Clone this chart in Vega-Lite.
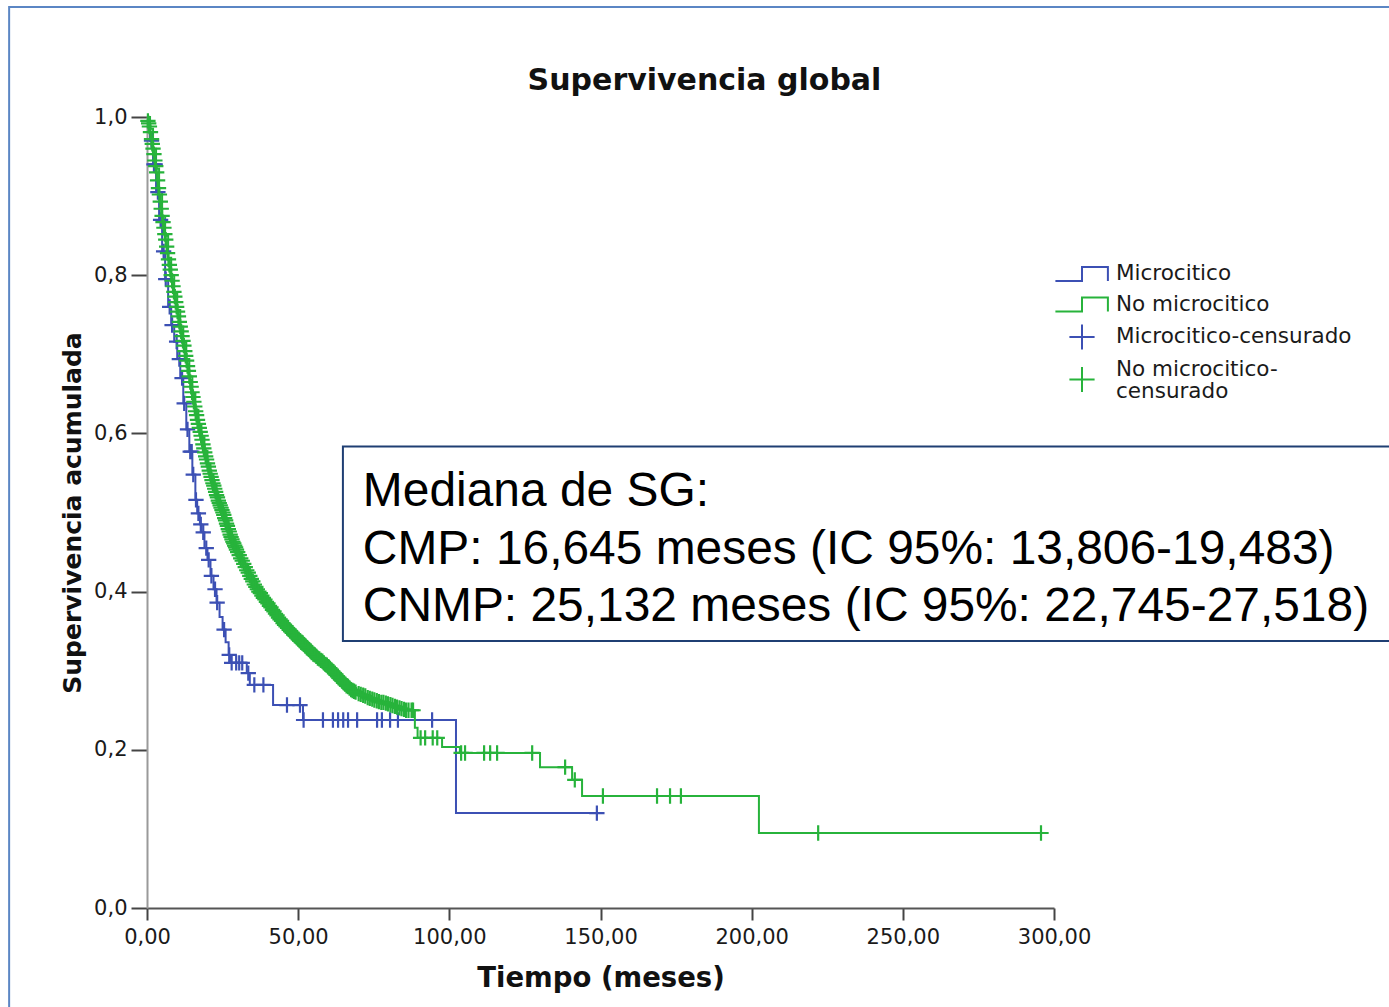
{
  "$schema": "https://vega.github.io/schema/vega-lite/v6.json",
  "width": 907,
  "height": 791,
  "autosize": {"type": "none"},
  "padding": {"left": 147, "top": 117, "right": 335, "bottom": 99},
  "background": "white",
  "title": {
    "text": "Supervivencia global",
    "font": "DejaVu Sans",
    "fontSize": 30,
    "fontWeight": "bold",
    "color": "#111111",
    "anchor": "middle",
    "frame": "group",
    "dx": 104,
    "offset": -90
  },
  "config": {
    "view": {"stroke": null},
    "axis": {
      "labelFont": "DejaVu Sans",
      "labelFontSize": 21,
      "labelColor": "#1a1a1a",
      "labelFlush": false,
      "titleFont": "DejaVu Sans",
      "titleFontWeight": "bold",
      "titleColor": "#111111",
      "grid": false,
      "tickColor": "#444444",
      "tickWidth": 2,
      "domainWidth": 2
    }
  },
  "datasets": {
    "curves": [
      {"series": "Microcitico", "t": 0, "s": 1.0},
      {"series": "Microcitico", "t": 1, "s": 0.97},
      {"series": "Microcitico", "t": 2, "s": 0.94},
      {"series": "Microcitico", "t": 3, "s": 0.905},
      {"series": "Microcitico", "t": 4, "s": 0.87},
      {"series": "Microcitico", "t": 5, "s": 0.83},
      {"series": "Microcitico", "t": 6, "s": 0.795},
      {"series": "Microcitico", "t": 7, "s": 0.76},
      {"series": "Microcitico", "t": 8, "s": 0.737},
      {"series": "Microcitico", "t": 9, "s": 0.716},
      {"series": "Microcitico", "t": 10, "s": 0.694},
      {"series": "Microcitico", "t": 11, "s": 0.67},
      {"series": "Microcitico", "t": 12, "s": 0.638},
      {"series": "Microcitico", "t": 13, "s": 0.605},
      {"series": "Microcitico", "t": 14, "s": 0.577},
      {"series": "Microcitico", "t": 15, "s": 0.548},
      {"series": "Microcitico", "t": 16, "s": 0.516},
      {"series": "Microcitico", "t": 16.6, "s": 0.499},
      {"series": "Microcitico", "t": 17.5, "s": 0.485},
      {"series": "Microcitico", "t": 18, "s": 0.475},
      {"series": "Microcitico", "t": 19, "s": 0.455},
      {"series": "Microcitico", "t": 20, "s": 0.44},
      {"series": "Microcitico", "t": 21, "s": 0.42},
      {"series": "Microcitico", "t": 22, "s": 0.403},
      {"series": "Microcitico", "t": 23, "s": 0.386},
      {"series": "Microcitico", "t": 24, "s": 0.368},
      {"series": "Microcitico", "t": 25, "s": 0.352},
      {"series": "Microcitico", "t": 26, "s": 0.336},
      {"series": "Microcitico", "t": 27, "s": 0.32},
      {"series": "Microcitico", "t": 27.5, "s": 0.31},
      {"series": "Microcitico", "t": 33, "s": 0.297},
      {"series": "Microcitico", "t": 34, "s": 0.282},
      {"series": "Microcitico", "t": 41.7, "s": 0.2566},
      {"series": "Microcitico", "t": 51.6, "s": 0.2377},
      {"series": "Microcitico", "t": 102.2, "s": 0.12},
      {"series": "Microcitico", "t": 148.8, "s": 0.12},
      {"series": "No microcitico", "t": 0, "s": 1.0},
      {"series": "No microcitico", "t": 1, "s": 0.985},
      {"series": "No microcitico", "t": 2, "s": 0.96},
      {"series": "No microcitico", "t": 3, "s": 0.935},
      {"series": "No microcitico", "t": 4, "s": 0.905},
      {"series": "No microcitico", "t": 5, "s": 0.875},
      {"series": "No microcitico", "t": 6, "s": 0.85},
      {"series": "No microcitico", "t": 7, "s": 0.822},
      {"series": "No microcitico", "t": 8, "s": 0.8},
      {"series": "No microcitico", "t": 9, "s": 0.777},
      {"series": "No microcitico", "t": 10, "s": 0.756},
      {"series": "No microcitico", "t": 11, "s": 0.735},
      {"series": "No microcitico", "t": 12, "s": 0.715},
      {"series": "No microcitico", "t": 13, "s": 0.694},
      {"series": "No microcitico", "t": 14, "s": 0.672},
      {"series": "No microcitico", "t": 15, "s": 0.65},
      {"series": "No microcitico", "t": 16, "s": 0.63},
      {"series": "No microcitico", "t": 17, "s": 0.612},
      {"series": "No microcitico", "t": 18, "s": 0.595},
      {"series": "No microcitico", "t": 19, "s": 0.578},
      {"series": "No microcitico", "t": 20, "s": 0.562},
      {"series": "No microcitico", "t": 21, "s": 0.548},
      {"series": "No microcitico", "t": 22, "s": 0.535},
      {"series": "No microcitico", "t": 23, "s": 0.522},
      {"series": "No microcitico", "t": 24, "s": 0.511},
      {"series": "No microcitico", "t": 25, "s": 0.501},
      {"series": "No microcitico", "t": 26, "s": 0.49},
      {"series": "No microcitico", "t": 27, "s": 0.478},
      {"series": "No microcitico", "t": 28, "s": 0.467},
      {"series": "No microcitico", "t": 29, "s": 0.458},
      {"series": "No microcitico", "t": 30, "s": 0.45},
      {"series": "No microcitico", "t": 31, "s": 0.442},
      {"series": "No microcitico", "t": 32, "s": 0.435},
      {"series": "No microcitico", "t": 33, "s": 0.427},
      {"series": "No microcitico", "t": 34, "s": 0.42},
      {"series": "No microcitico", "t": 35, "s": 0.413},
      {"series": "No microcitico", "t": 36, "s": 0.406},
      {"series": "No microcitico", "t": 37, "s": 0.4},
      {"series": "No microcitico", "t": 38, "s": 0.395},
      {"series": "No microcitico", "t": 39, "s": 0.39},
      {"series": "No microcitico", "t": 40, "s": 0.385},
      {"series": "No microcitico", "t": 41, "s": 0.38},
      {"series": "No microcitico", "t": 42, "s": 0.375},
      {"series": "No microcitico", "t": 43, "s": 0.37},
      {"series": "No microcitico", "t": 44, "s": 0.365},
      {"series": "No microcitico", "t": 45, "s": 0.36},
      {"series": "No microcitico", "t": 46, "s": 0.356},
      {"series": "No microcitico", "t": 47, "s": 0.352},
      {"series": "No microcitico", "t": 48, "s": 0.348},
      {"series": "No microcitico", "t": 49, "s": 0.344},
      {"series": "No microcitico", "t": 50, "s": 0.34},
      {"series": "No microcitico", "t": 51, "s": 0.336},
      {"series": "No microcitico", "t": 52, "s": 0.333},
      {"series": "No microcitico", "t": 53, "s": 0.329},
      {"series": "No microcitico", "t": 54, "s": 0.325},
      {"series": "No microcitico", "t": 55, "s": 0.321},
      {"series": "No microcitico", "t": 56, "s": 0.318},
      {"series": "No microcitico", "t": 57, "s": 0.315},
      {"series": "No microcitico", "t": 58, "s": 0.312},
      {"series": "No microcitico", "t": 59, "s": 0.308},
      {"series": "No microcitico", "t": 60, "s": 0.305},
      {"series": "No microcitico", "t": 61, "s": 0.301},
      {"series": "No microcitico", "t": 62, "s": 0.297},
      {"series": "No microcitico", "t": 63, "s": 0.293},
      {"series": "No microcitico", "t": 64, "s": 0.289},
      {"series": "No microcitico", "t": 65, "s": 0.285},
      {"series": "No microcitico", "t": 66, "s": 0.281},
      {"series": "No microcitico", "t": 67, "s": 0.278},
      {"series": "No microcitico", "t": 68, "s": 0.275},
      {"series": "No microcitico", "t": 69, "s": 0.273},
      {"series": "No microcitico", "t": 70, "s": 0.271},
      {"series": "No microcitico", "t": 72, "s": 0.268},
      {"series": "No microcitico", "t": 74, "s": 0.265},
      {"series": "No microcitico", "t": 76, "s": 0.262},
      {"series": "No microcitico", "t": 78, "s": 0.26},
      {"series": "No microcitico", "t": 80, "s": 0.258},
      {"series": "No microcitico", "t": 82, "s": 0.255},
      {"series": "No microcitico", "t": 84, "s": 0.252},
      {"series": "No microcitico", "t": 86, "s": 0.25},
      {"series": "No microcitico", "t": 88.6, "s": 0.228},
      {"series": "No microcitico", "t": 89.5, "s": 0.215},
      {"series": "No microcitico", "t": 97.6, "s": 0.2035},
      {"series": "No microcitico", "t": 103.5, "s": 0.196},
      {"series": "No microcitico", "t": 130, "s": 0.178},
      {"series": "No microcitico", "t": 140.6, "s": 0.162},
      {"series": "No microcitico", "t": 143.9, "s": 0.1416},
      {"series": "No microcitico", "t": 202.4, "s": 0.0948},
      {"series": "No microcitico", "t": 295.7, "s": 0.0948}
    ],
    "censored": [
      {"series": "Microcitico-censurado", "t": 1.5, "s": 0.97},
      {"series": "Microcitico-censurado", "t": 2.3, "s": 0.94},
      {"series": "Microcitico-censurado", "t": 2.7, "s": 0.94},
      {"series": "Microcitico-censurado", "t": 3.6, "s": 0.905},
      {"series": "Microcitico-censurado", "t": 4.5, "s": 0.87},
      {"series": "Microcitico-censurado", "t": 5.5, "s": 0.83},
      {"series": "Microcitico-censurado", "t": 6.2, "s": 0.795},
      {"series": "Microcitico-censurado", "t": 7.5, "s": 0.76},
      {"series": "Microcitico-censurado", "t": 8.3, "s": 0.737},
      {"series": "Microcitico-censurado", "t": 9.8, "s": 0.716},
      {"series": "Microcitico-censurado", "t": 10.7, "s": 0.694},
      {"series": "Microcitico-censurado", "t": 11.6, "s": 0.67},
      {"series": "Microcitico-censurado", "t": 12.3, "s": 0.638},
      {"series": "Microcitico-censurado", "t": 13.4, "s": 0.605},
      {"series": "Microcitico-censurado", "t": 14.3, "s": 0.577},
      {"series": "Microcitico-censurado", "t": 14.8, "s": 0.577},
      {"series": "Microcitico-censurado", "t": 15.3, "s": 0.548},
      {"series": "Microcitico-censurado", "t": 16.2, "s": 0.516},
      {"series": "Microcitico-censurado", "t": 17, "s": 0.499},
      {"series": "Microcitico-censurado", "t": 17.8, "s": 0.485},
      {"series": "Microcitico-censurado", "t": 18.6, "s": 0.475},
      {"series": "Microcitico-censurado", "t": 19.6, "s": 0.455},
      {"series": "Microcitico-censurado", "t": 20.4, "s": 0.44},
      {"series": "Microcitico-censurado", "t": 21.3, "s": 0.42},
      {"series": "Microcitico-censurado", "t": 22.5, "s": 0.403},
      {"series": "Microcitico-censurado", "t": 23.2, "s": 0.386},
      {"series": "Microcitico-censurado", "t": 25.5, "s": 0.352},
      {"series": "Microcitico-censurado", "t": 27.2, "s": 0.32},
      {"series": "Microcitico-censurado", "t": 28, "s": 0.31},
      {"series": "Microcitico-censurado", "t": 29.5, "s": 0.31},
      {"series": "Microcitico-censurado", "t": 30.5, "s": 0.31},
      {"series": "Microcitico-censurado", "t": 31.5, "s": 0.31},
      {"series": "Microcitico-censurado", "t": 33.5, "s": 0.297},
      {"series": "Microcitico-censurado", "t": 35.5, "s": 0.282},
      {"series": "Microcitico-censurado", "t": 38.5, "s": 0.282},
      {"series": "Microcitico-censurado", "t": 46.3, "s": 0.2566},
      {"series": "Microcitico-censurado", "t": 50.6, "s": 0.2566},
      {"series": "Microcitico-censurado", "t": 51.8, "s": 0.2377},
      {"series": "Microcitico-censurado", "t": 58.2, "s": 0.2377},
      {"series": "Microcitico-censurado", "t": 61.5, "s": 0.2377},
      {"series": "Microcitico-censurado", "t": 63.2, "s": 0.2377},
      {"series": "Microcitico-censurado", "t": 64.9, "s": 0.2377},
      {"series": "Microcitico-censurado", "t": 66.5, "s": 0.2377},
      {"series": "Microcitico-censurado", "t": 69.5, "s": 0.2377},
      {"series": "Microcitico-censurado", "t": 76.1, "s": 0.2377},
      {"series": "Microcitico-censurado", "t": 77.7, "s": 0.2377},
      {"series": "Microcitico-censurado", "t": 80.4, "s": 0.2377},
      {"series": "Microcitico-censurado", "t": 83, "s": 0.2377},
      {"series": "Microcitico-censurado", "t": 94.3, "s": 0.2377},
      {"series": "Microcitico-censurado", "t": 148.8, "s": 0.12},
      {"series": "No microcitico-censurado", "t": 0.3, "s": 0.995},
      {"series": "No microcitico-censurado", "t": 0.55, "s": 0.992},
      {"series": "No microcitico-censurado", "t": 0.8, "s": 0.988},
      {"series": "No microcitico-censurado", "t": 1.15, "s": 0.981},
      {"series": "No microcitico-censurado", "t": 1.5, "s": 0.972},
      {"series": "No microcitico-censurado", "t": 1.75, "s": 0.966},
      {"series": "No microcitico-censurado", "t": 2, "s": 0.96},
      {"series": "No microcitico-censurado", "t": 2.3, "s": 0.953},
      {"series": "No microcitico-censurado", "t": 2.6, "s": 0.945},
      {"series": "No microcitico-censurado", "t": 2.9, "s": 0.938},
      {"series": "No microcitico-censurado", "t": 3.2, "s": 0.93},
      {"series": "No microcitico-censurado", "t": 3.5, "s": 0.92},
      {"series": "No microcitico-censurado", "t": 3.8, "s": 0.91},
      {"series": "No microcitico-censurado", "t": 4.1, "s": 0.902},
      {"series": "No microcitico-censurado", "t": 4.4, "s": 0.893},
      {"series": "No microcitico-censurado", "t": 4.7, "s": 0.884},
      {"series": "No microcitico-censurado", "t": 5, "s": 0.875},
      {"series": "No microcitico-censurado", "t": 5.3, "s": 0.867},
      {"series": "No microcitico-censurado", "t": 5.6, "s": 0.86},
      {"series": "No microcitico-censurado", "t": 5.9, "s": 0.852},
      {"series": "No microcitico-censurado", "t": 6.2, "s": 0.845},
      {"series": "No microcitico-censurado", "t": 6.5, "s": 0.836},
      {"series": "No microcitico-censurado", "t": 6.8, "s": 0.828},
      {"series": "No microcitico-censurado", "t": 7.1, "s": 0.82},
      {"series": "No microcitico-censurado", "t": 7.4, "s": 0.813},
      {"series": "No microcitico-censurado", "t": 7.7, "s": 0.807},
      {"series": "No microcitico-censurado", "t": 8, "s": 0.8},
      {"series": "No microcitico-censurado", "t": 8.3, "s": 0.793},
      {"series": "No microcitico-censurado", "t": 8.6, "s": 0.786},
      {"series": "No microcitico-censurado", "t": 8.9, "s": 0.779},
      {"series": "No microcitico-censurado", "t": 9.2, "s": 0.773},
      {"series": "No microcitico-censurado", "t": 9.5, "s": 0.766},
      {"series": "No microcitico-censurado", "t": 9.8, "s": 0.76},
      {"series": "No microcitico-censurado", "t": 10.1, "s": 0.754},
      {"series": "No microcitico-censurado", "t": 10.4, "s": 0.748},
      {"series": "No microcitico-censurado", "t": 10.7, "s": 0.741},
      {"series": "No microcitico-censurado", "t": 11, "s": 0.735},
      {"series": "No microcitico-censurado", "t": 11.3, "s": 0.729},
      {"series": "No microcitico-censurado", "t": 11.6, "s": 0.723},
      {"series": "No microcitico-censurado", "t": 11.9, "s": 0.717},
      {"series": "No microcitico-censurado", "t": 12.2, "s": 0.711},
      {"series": "No microcitico-censurado", "t": 12.5, "s": 0.704},
      {"series": "No microcitico-censurado", "t": 12.8, "s": 0.698},
      {"series": "No microcitico-censurado", "t": 13.1, "s": 0.692},
      {"series": "No microcitico-censurado", "t": 13.4, "s": 0.685},
      {"series": "No microcitico-censurado", "t": 13.7, "s": 0.679},
      {"series": "No microcitico-censurado", "t": 14, "s": 0.672},
      {"series": "No microcitico-censurado", "t": 14.3, "s": 0.665},
      {"series": "No microcitico-censurado", "t": 14.6, "s": 0.659},
      {"series": "No microcitico-censurado", "t": 14.9, "s": 0.652},
      {"series": "No microcitico-censurado", "t": 15.2, "s": 0.646},
      {"series": "No microcitico-censurado", "t": 15.5, "s": 0.64},
      {"series": "No microcitico-censurado", "t": 15.8, "s": 0.634},
      {"series": "No microcitico-censurado", "t": 16.1, "s": 0.628},
      {"series": "No microcitico-censurado", "t": 16.4, "s": 0.623},
      {"series": "No microcitico-censurado", "t": 16.7, "s": 0.617},
      {"series": "No microcitico-censurado", "t": 17, "s": 0.612},
      {"series": "No microcitico-censurado", "t": 17.3, "s": 0.607},
      {"series": "No microcitico-censurado", "t": 17.6, "s": 0.602},
      {"series": "No microcitico-censurado", "t": 17.9, "s": 0.597},
      {"series": "No microcitico-censurado", "t": 18.2, "s": 0.592},
      {"series": "No microcitico-censurado", "t": 18.5, "s": 0.586},
      {"series": "No microcitico-censurado", "t": 18.8, "s": 0.581},
      {"series": "No microcitico-censurado", "t": 19.1, "s": 0.576},
      {"series": "No microcitico-censurado", "t": 19.4, "s": 0.571},
      {"series": "No microcitico-censurado", "t": 19.7, "s": 0.567},
      {"series": "No microcitico-censurado", "t": 20, "s": 0.562},
      {"series": "No microcitico-censurado", "t": 20.3, "s": 0.558},
      {"series": "No microcitico-censurado", "t": 20.6, "s": 0.553},
      {"series": "No microcitico-censurado", "t": 20.9, "s": 0.549},
      {"series": "No microcitico-censurado", "t": 21.2, "s": 0.545},
      {"series": "No microcitico-censurado", "t": 21.5, "s": 0.541},
      {"series": "No microcitico-censurado", "t": 21.8, "s": 0.537},
      {"series": "No microcitico-censurado", "t": 22.1, "s": 0.534},
      {"series": "No microcitico-censurado", "t": 22.4, "s": 0.53},
      {"series": "No microcitico-censurado", "t": 22.7, "s": 0.526},
      {"series": "No microcitico-censurado", "t": 23, "s": 0.522},
      {"series": "No microcitico-censurado", "t": 23.3, "s": 0.519},
      {"series": "No microcitico-censurado", "t": 23.6, "s": 0.515},
      {"series": "No microcitico-censurado", "t": 23.9, "s": 0.512},
      {"series": "No microcitico-censurado", "t": 24.2, "s": 0.509},
      {"series": "No microcitico-censurado", "t": 24.5, "s": 0.506},
      {"series": "No microcitico-censurado", "t": 24.8, "s": 0.503},
      {"series": "No microcitico-censurado", "t": 25.1, "s": 0.5},
      {"series": "No microcitico-censurado", "t": 25.4, "s": 0.497},
      {"series": "No microcitico-censurado", "t": 25.7, "s": 0.493},
      {"series": "No microcitico-censurado", "t": 26, "s": 0.49},
      {"series": "No microcitico-censurado", "t": 26.3, "s": 0.486},
      {"series": "No microcitico-censurado", "t": 26.6, "s": 0.483},
      {"series": "No microcitico-censurado", "t": 26.9, "s": 0.479},
      {"series": "No microcitico-censurado", "t": 27.2, "s": 0.476},
      {"series": "No microcitico-censurado", "t": 27.5, "s": 0.472},
      {"series": "No microcitico-censurado", "t": 27.8, "s": 0.469},
      {"series": "No microcitico-censurado", "t": 28.1, "s": 0.466},
      {"series": "No microcitico-censurado", "t": 28.4, "s": 0.463},
      {"series": "No microcitico-censurado", "t": 28.7, "s": 0.461},
      {"series": "No microcitico-censurado", "t": 29, "s": 0.458},
      {"series": "No microcitico-censurado", "t": 29.3, "s": 0.456},
      {"series": "No microcitico-censurado", "t": 29.6, "s": 0.453},
      {"series": "No microcitico-censurado", "t": 30, "s": 0.45},
      {"series": "No microcitico-censurado", "t": 30.5, "s": 0.446},
      {"series": "No microcitico-censurado", "t": 31, "s": 0.442},
      {"series": "No microcitico-censurado", "t": 31.5, "s": 0.439},
      {"series": "No microcitico-censurado", "t": 32, "s": 0.435},
      {"series": "No microcitico-censurado", "t": 32.5, "s": 0.431},
      {"series": "No microcitico-censurado", "t": 33, "s": 0.427},
      {"series": "No microcitico-censurado", "t": 33.5, "s": 0.424},
      {"series": "No microcitico-censurado", "t": 34, "s": 0.42},
      {"series": "No microcitico-censurado", "t": 34.5, "s": 0.416},
      {"series": "No microcitico-censurado", "t": 35, "s": 0.413},
      {"series": "No microcitico-censurado", "t": 35.5, "s": 0.409},
      {"series": "No microcitico-censurado", "t": 36, "s": 0.406},
      {"series": "No microcitico-censurado", "t": 36.5, "s": 0.403},
      {"series": "No microcitico-censurado", "t": 37, "s": 0.4},
      {"series": "No microcitico-censurado", "t": 37.5, "s": 0.398},
      {"series": "No microcitico-censurado", "t": 38, "s": 0.395},
      {"series": "No microcitico-censurado", "t": 38.5, "s": 0.392},
      {"series": "No microcitico-censurado", "t": 39, "s": 0.39},
      {"series": "No microcitico-censurado", "t": 39.5, "s": 0.387},
      {"series": "No microcitico-censurado", "t": 40, "s": 0.385},
      {"series": "No microcitico-censurado", "t": 40.5, "s": 0.382},
      {"series": "No microcitico-censurado", "t": 41, "s": 0.38},
      {"series": "No microcitico-censurado", "t": 41.5, "s": 0.377},
      {"series": "No microcitico-censurado", "t": 42, "s": 0.375},
      {"series": "No microcitico-censurado", "t": 42.5, "s": 0.372},
      {"series": "No microcitico-censurado", "t": 43, "s": 0.37},
      {"series": "No microcitico-censurado", "t": 43.5, "s": 0.367},
      {"series": "No microcitico-censurado", "t": 44, "s": 0.365},
      {"series": "No microcitico-censurado", "t": 44.5, "s": 0.363},
      {"series": "No microcitico-censurado", "t": 45, "s": 0.36},
      {"series": "No microcitico-censurado", "t": 45.5, "s": 0.358},
      {"series": "No microcitico-censurado", "t": 46, "s": 0.356},
      {"series": "No microcitico-censurado", "t": 46.5, "s": 0.354},
      {"series": "No microcitico-censurado", "t": 47, "s": 0.352},
      {"series": "No microcitico-censurado", "t": 47.5, "s": 0.35},
      {"series": "No microcitico-censurado", "t": 48, "s": 0.348},
      {"series": "No microcitico-censurado", "t": 48.5, "s": 0.346},
      {"series": "No microcitico-censurado", "t": 49, "s": 0.344},
      {"series": "No microcitico-censurado", "t": 49.5, "s": 0.342},
      {"series": "No microcitico-censurado", "t": 50, "s": 0.34},
      {"series": "No microcitico-censurado", "t": 50.5, "s": 0.338},
      {"series": "No microcitico-censurado", "t": 51, "s": 0.336},
      {"series": "No microcitico-censurado", "t": 51.5, "s": 0.335},
      {"series": "No microcitico-censurado", "t": 52, "s": 0.333},
      {"series": "No microcitico-censurado", "t": 52.5, "s": 0.331},
      {"series": "No microcitico-censurado", "t": 53, "s": 0.329},
      {"series": "No microcitico-censurado", "t": 53.5, "s": 0.327},
      {"series": "No microcitico-censurado", "t": 54, "s": 0.325},
      {"series": "No microcitico-censurado", "t": 54.5, "s": 0.323},
      {"series": "No microcitico-censurado", "t": 55, "s": 0.321},
      {"series": "No microcitico-censurado", "t": 55.5, "s": 0.32},
      {"series": "No microcitico-censurado", "t": 56, "s": 0.318},
      {"series": "No microcitico-censurado", "t": 56.5, "s": 0.316},
      {"series": "No microcitico-censurado", "t": 57, "s": 0.315},
      {"series": "No microcitico-censurado", "t": 57.5, "s": 0.313},
      {"series": "No microcitico-censurado", "t": 58, "s": 0.312},
      {"series": "No microcitico-censurado", "t": 58.5, "s": 0.31},
      {"series": "No microcitico-censurado", "t": 59, "s": 0.308},
      {"series": "No microcitico-censurado", "t": 59.5, "s": 0.307},
      {"series": "No microcitico-censurado", "t": 60, "s": 0.305},
      {"series": "No microcitico-censurado", "t": 60.5, "s": 0.303},
      {"series": "No microcitico-censurado", "t": 61, "s": 0.301},
      {"series": "No microcitico-censurado", "t": 61.5, "s": 0.299},
      {"series": "No microcitico-censurado", "t": 62, "s": 0.297},
      {"series": "No microcitico-censurado", "t": 62.5, "s": 0.295},
      {"series": "No microcitico-censurado", "t": 63, "s": 0.293},
      {"series": "No microcitico-censurado", "t": 63.5, "s": 0.291},
      {"series": "No microcitico-censurado", "t": 64, "s": 0.289},
      {"series": "No microcitico-censurado", "t": 64.5, "s": 0.287},
      {"series": "No microcitico-censurado", "t": 65, "s": 0.285},
      {"series": "No microcitico-censurado", "t": 65.5, "s": 0.283},
      {"series": "No microcitico-censurado", "t": 66, "s": 0.281},
      {"series": "No microcitico-censurado", "t": 66.5, "s": 0.28},
      {"series": "No microcitico-censurado", "t": 67, "s": 0.278},
      {"series": "No microcitico-censurado", "t": 67.5, "s": 0.276},
      {"series": "No microcitico-censurado", "t": 68, "s": 0.275},
      {"series": "No microcitico-censurado", "t": 68.5, "s": 0.274},
      {"series": "No microcitico-censurado", "t": 69, "s": 0.273},
      {"series": "No microcitico-censurado", "t": 70, "s": 0.271},
      {"series": "No microcitico-censurado", "t": 70.7, "s": 0.27},
      {"series": "No microcitico-censurado", "t": 71.5, "s": 0.269},
      {"series": "No microcitico-censurado", "t": 72.2, "s": 0.268},
      {"series": "No microcitico-censurado", "t": 73, "s": 0.266},
      {"series": "No microcitico-censurado", "t": 73.7, "s": 0.265},
      {"series": "No microcitico-censurado", "t": 74.5, "s": 0.264},
      {"series": "No microcitico-censurado", "t": 75.2, "s": 0.263},
      {"series": "No microcitico-censurado", "t": 76, "s": 0.262},
      {"series": "No microcitico-censurado", "t": 76.7, "s": 0.261},
      {"series": "No microcitico-censurado", "t": 77.5, "s": 0.26},
      {"series": "No microcitico-censurado", "t": 78.2, "s": 0.26},
      {"series": "No microcitico-censurado", "t": 79, "s": 0.259},
      {"series": "No microcitico-censurado", "t": 79.7, "s": 0.258},
      {"series": "No microcitico-censurado", "t": 80.5, "s": 0.257},
      {"series": "No microcitico-censurado", "t": 81.2, "s": 0.256},
      {"series": "No microcitico-censurado", "t": 82, "s": 0.255},
      {"series": "No microcitico-censurado", "t": 82.7, "s": 0.254},
      {"series": "No microcitico-censurado", "t": 83.5, "s": 0.253},
      {"series": "No microcitico-censurado", "t": 84.2, "s": 0.252},
      {"series": "No microcitico-censurado", "t": 85, "s": 0.251},
      {"series": "No microcitico-censurado", "t": 85.7, "s": 0.25},
      {"series": "No microcitico-censurado", "t": 86.5, "s": 0.25},
      {"series": "No microcitico-censurado", "t": 87.5, "s": 0.25},
      {"series": "No microcitico-censurado", "t": 88, "s": 0.25},
      {"series": "No microcitico-censurado", "t": 90.5, "s": 0.215},
      {"series": "No microcitico-censurado", "t": 92, "s": 0.215},
      {"series": "No microcitico-censurado", "t": 94.5, "s": 0.215},
      {"series": "No microcitico-censurado", "t": 96, "s": 0.215},
      {"series": "No microcitico-censurado", "t": 103.9, "s": 0.196},
      {"series": "No microcitico-censurado", "t": 105.2, "s": 0.196},
      {"series": "No microcitico-censurado", "t": 111.5, "s": 0.196},
      {"series": "No microcitico-censurado", "t": 113.5, "s": 0.196},
      {"series": "No microcitico-censurado", "t": 115.8, "s": 0.196},
      {"series": "No microcitico-censurado", "t": 127.4, "s": 0.196},
      {"series": "No microcitico-censurado", "t": 138.3, "s": 0.178},
      {"series": "No microcitico-censurado", "t": 141.5, "s": 0.162},
      {"series": "No microcitico-censurado", "t": 150.8, "s": 0.1416},
      {"series": "No microcitico-censurado", "t": 168.7, "s": 0.1416},
      {"series": "No microcitico-censurado", "t": 173, "s": 0.1416},
      {"series": "No microcitico-censurado", "t": 176.6, "s": 0.1416},
      {"series": "No microcitico-censurado", "t": 222, "s": 0.0948},
      {"series": "No microcitico-censurado", "t": 295.7, "s": 0.0948}
    ]
  },
  "layer": [
    {
      "data": {"values": [{}]},
      "mark": {"type": "rect", "fill": null, "stroke": "#5b86c4", "strokeWidth": 2, "clip": false},
      "encoding": {
        "x": {"datum": -45.6},
        "x2": {"datum": 500},
        "y": {"datum": 1.139},
        "y2": {"datum": -0.3}
      }
    },
    {
      "data": {"name": "curves"},
      "mark": {"type": "line", "interpolate": "step-after", "strokeWidth": 2},
      "encoding": {
        "x": {
          "field": "t",
          "type": "quantitative",
          "scale": {"domain": [0, 300], "nice": false, "zero": false},
          "axis": {
            "title": "Tiempo (meses)",
            "titleFontSize": 27.5,
            "titlePadding": 17,
            "values": [0, 50, 100, 150, 200, 250, 300],
            "labelExpr": "replace(format(datum.value, '.2f'), '.', ',')",
            "labelPadding": 6,
            "tickSize": 12,
            "domainColor": "#555555"
          }
        },
        "y": {
          "field": "s",
          "type": "quantitative",
          "scale": {"domain": [0, 1], "nice": false},
          "axis": {
            "title": "Supervivencia acumulada",
            "titleFontSize": 25,
            "titlePadding": 8,
            "values": [0, 0.2, 0.4, 0.6, 0.8, 1.0],
            "labelExpr": "replace(format(datum.value, '.1f'), '.', ',')",
            "labelPadding": 4,
            "tickSize": 16,
            "domainColor": "#9a9a9a"
          }
        },
        "color": {
          "field": "series",
          "type": "nominal",
          "scale": {
            "domain": ["Microcitico", "No microcitico", "Microcitico-censurado", "No microcitico-censurado"],
            "range": ["#3c50b4", "#27b33b", "#3c50b4", "#27b33b"]
          },
          "legend": {
            "title": null,
            "orient": "none",
            "legendX": 920,
            "legendY": 142,
            "padding": 0,
            "labelFont": "DejaVu Sans",
            "labelFontSize": 21.5,
            "labelColor": "#1a1a1a",
            "labelOffset": 19,
            "rowPadding": 4.5,
            "symbolSize": 784,
            "symbolStrokeWidth": 2,
            "labelLimit": 400,
            "labelExpr": "datum.label == 'No microcitico-censurado' ? ['No microcitico-', 'censurado'] : datum.label",
            "encode": {"labels": {"update": {"lineHeight": {"value": 22.5}, "dy": {"signal": "datum.label == 'No microcitico-censurado' ? -10 : 0"}}}}
          }
        }
      }
    },
    {
      "data": {"name": "censored"},
      "mark": {"type": "point", "filled": false, "strokeWidth": 2.2, "size": 290, "opacity": 1},
      "encoding": {
        "x": {"field": "t", "type": "quantitative"},
        "y": {"field": "s", "type": "quantitative"},
        "color": {"field": "series", "type": "nominal"},
        "shape": {
          "field": "series",
          "type": "nominal",
          "scale": {
            "domain": ["Microcitico", "No microcitico", "Microcitico-censurado", "No microcitico-censurado"],
            "range": ["M-1.9,0.5H0V-0.5H1.85V0.5", "M-1.9,0.5H0V-0.5H1.85V0.5", "M-0.9,0H0.9M0,-0.9V0.9", "M-0.9,0H0.9M0,-0.9V0.9"]
          },
          "legend": {
            "title": null,
            "orient": "none",
            "legendX": 920,
            "legendY": 142,
            "padding": 0,
            "labelFont": "DejaVu Sans",
            "labelFontSize": 21.5,
            "labelColor": "#1a1a1a",
            "labelOffset": 19,
            "rowPadding": 4.5,
            "symbolSize": 784,
            "symbolStrokeWidth": 2,
            "labelLimit": 400,
            "labelExpr": "datum.label == 'No microcitico-censurado' ? ['No microcitico-', 'censurado'] : datum.label",
            "encode": {"labels": {"update": {"lineHeight": {"value": 22.5}, "dy": {"signal": "datum.label == 'No microcitico-censurado' ? -10 : 0"}}}}
          }
        }
      }
    },
    {
      "data": {"values": [{}]},
      "mark": {"type": "rect", "fill": "white", "stroke": "#1f3f73", "strokeWidth": 2, "clip": false},
      "encoding": {
        "x": {"datum": 64.8},
        "x2": {"datum": 420},
        "y": {"datum": 0.5834},
        "y2": {"datum": 0.3375}
      }
    },
    {
      "data": {"values": [{}]},
      "mark": {
        "type": "text",
        "text": ["Mediana de SG:", "CMP: 16,645 meses (IC 95%: 13,806-19,483)", "CNMP: 25,132 meses (IC 95%: 22,745-27,518)"],
        "font": "Liberation Sans",
        "fontSize": 47.9,
        "lineHeight": 57.5,
        "align": "left",
        "baseline": "alphabetic",
        "color": "#000000",
        "clip": false
      },
      "encoding": {
        "x": {"datum": 71.4},
        "y": {"datum": 0.5082}
      }
    }
  ]
}
